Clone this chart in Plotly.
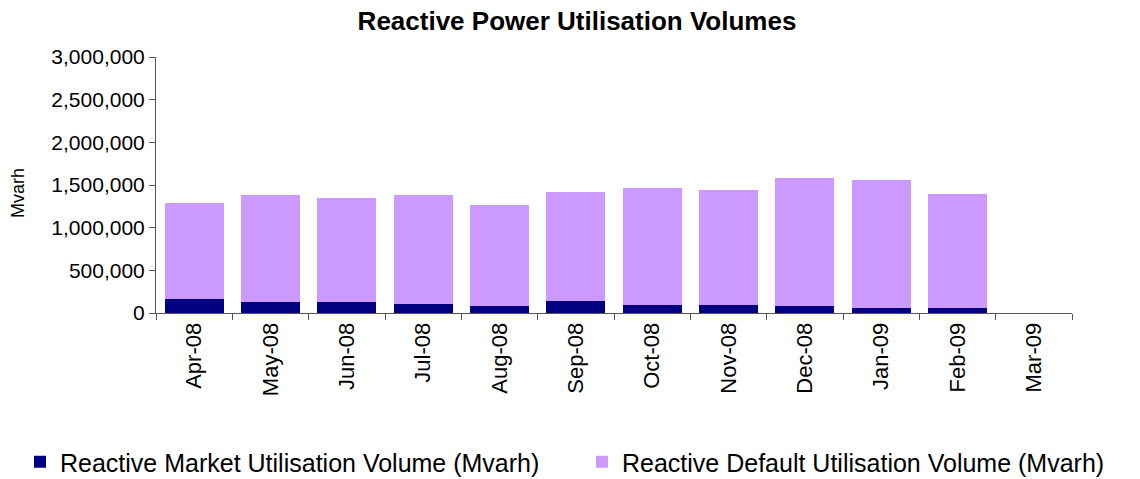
import plotly.graph_objects as go

months = ["Apr-08", "May-08", "Jun-08", "Jul-08", "Aug-08", "Sep-08",
          "Oct-08", "Nov-08", "Dec-08", "Jan-09", "Feb-09", "Mar-09"]
market = [168000, 133000, 133000, 109000, 86000, 144000,
          97000, 97000, 86000, 62000, 62000, 0]
totals = [1284000, 1378000, 1351000, 1378000, 1269000, 1422000,
          1469000, 1445000, 1586000, 1562000, 1398000, 0]
default = [t - m for t, m in zip(totals, market)]

FONT = "Liberation Sans, Arial, sans-serif"
W, H = 1140, 479

fig = go.Figure()
fig.add_trace(go.Bar(x=months, y=market, name="Reactive Market Utilisation Volume (Mvarh)",
                     marker=dict(color="#000080", line=dict(width=0)), legend="legend"))
fig.add_trace(go.Bar(x=months, y=default, name="Reactive Default Utilisation Volume (Mvarh)",
                     marker=dict(color="#CC99FF", line=dict(width=0)), legend="legend2"))

plot_left, plot_right, plot_top, plot_bottom = 156, 1072, 57, 313
pw = plot_right - plot_left
ph = plot_bottom - plot_top

legend_common = dict(orientation="h", xanchor="left", xref="container",
                     y=1 - 462 / H, yref="container", yanchor="middle",
                     font=dict(size=25, family=FONT, color="black"),
                     itemwidth=30, bgcolor="rgba(0,0,0,0)", borderwidth=0)

fig.update_layout(
    barmode="stack",
    bargap=0.23,
    width=W, height=H,
    paper_bgcolor="white", plot_bgcolor="white",
    margin=dict(l=plot_left, r=W - plot_right, t=plot_top, b=H - plot_bottom, autoexpand=False),
    font=dict(family=FONT, color="black"),
    title=dict(text="<b>Reactive Power Utilisation Volumes</b>", font=dict(size=26, family=FONT, color="black"),
               x=577 / W, xref="container", xanchor="center", y=1 - 21 / H, yref="container", yanchor="middle"),
    showlegend=True,
    legend=dict(x=20 / W, **legend_common),
    legend2=dict(x=582 / W, **legend_common),
    xaxis=dict(showline=True, linecolor="#555555", linewidth=1, ticks="outside", ticklen=6,
               tickcolor="#555555", tickson="boundaries", tickangle=-90,
               tickfont=dict(size=22, family=FONT, color="black"), showgrid=False),
    yaxis=dict(range=[0, 3000000], dtick=500000, tickformat=",", showline=True, linecolor="#555555",
               linewidth=1, ticks="outside", ticklen=6, tickcolor="#555555", showgrid=False, zeroline=False,
               tickfont=dict(size=21, family=FONT, color="black")),
    annotations=[dict(text="Mvarh", textangle=-90, showarrow=False,
                      xref="paper", yref="paper",
                      x=(18 - plot_left) / pw, y=(plot_bottom - 193) / ph,
                      xanchor="center", yanchor="middle",
                      font=dict(size=18, family=FONT, color="black"))],
)

fig.write_html("out.html", config={"displayModeBar": False},
               post_script="document.body.style.margin='0';document.body.style.padding='0';")
